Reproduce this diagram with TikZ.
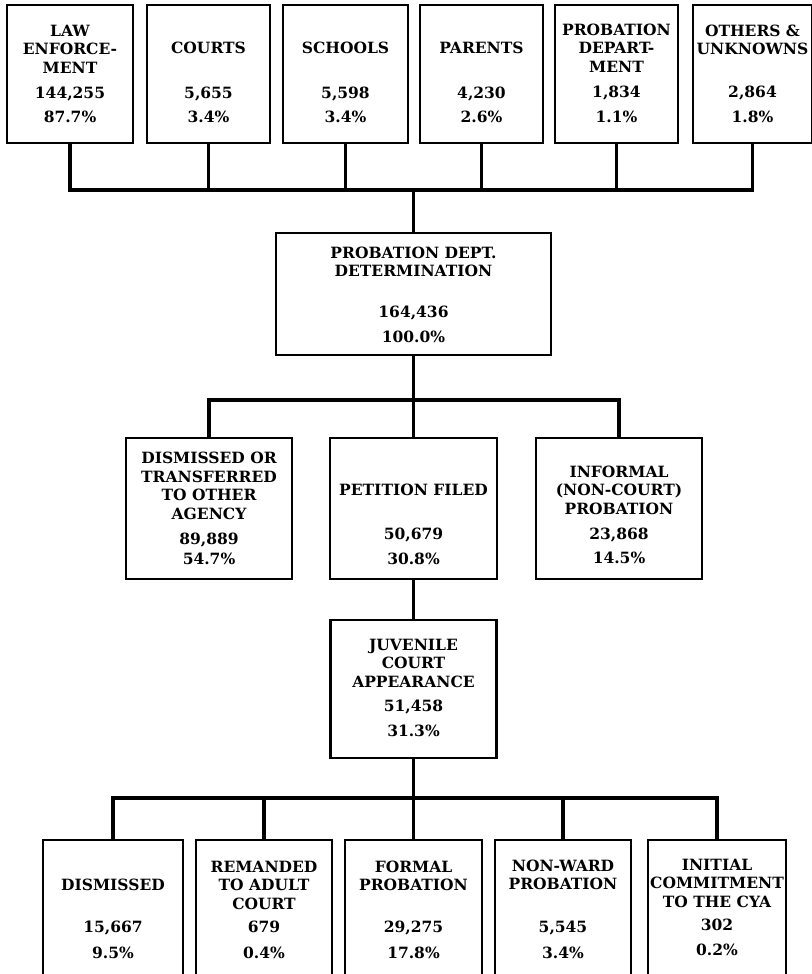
\documentclass[tikz,border=0pt]{standalone}
\usepackage{fontspec}
\setmainfont{DejaVu Serif}

\tikzset{
  statbox/.style={draw, line width=2.4pt, inner sep=0pt, outer sep=0pt, anchor=north west},
  boxtitle/.style={align=center, inner sep=0pt, font=\fontsize{15.5}{18.5}\selectfont\bfseries},
  boxfig/.style={inner sep=0pt, text height=11.5pt, text depth=0pt, font=\fontsize{15.5}{18}\selectfont\bfseries},
  link/.style={line width=3.2pt}
}

\newcommand{\boxtext}[7]{%
  \node[boxtitle] at ([yshift=-#2pt]#1.north) {#3};
  \node[boxfig] at ([yshift=-#4pt]#1.north) {#5};
  \node[boxfig] at ([yshift=-#6pt]#1.north) {#7};
}

\begin{document}
\begin{tikzpicture}[x=1pt, y=-1pt]
\useasboundingbox[fill=white] (0,0) rectangle (811,974);

\node[statbox, minimum width=126pt, minimum height=138pt] (law) at (7,5) {};
\node[statbox, minimum width=123pt, minimum height=138pt] (courts) at (147,5) {};
\node[statbox, minimum width=125pt, minimum height=138pt] (schools) at (283,5) {};
\node[statbox, minimum width=123pt, minimum height=138pt] (parents) at (420,5) {};
\node[statbox, minimum width=123pt, minimum height=138pt] (probdept) at (555,5) {};
\node[statbox, minimum width=119pt, minimum height=138pt] (others) at (693,5) {};

\node[statbox, minimum width=275pt, minimum height=122pt] (determ) at (276,233) {};

\node[statbox, minimum width=166pt, minimum height=141pt] (transfer) at (126,438) {};
\node[statbox, minimum width=167pt, minimum height=141pt] (petition) at (330,438) {};
\node[statbox, minimum width=166pt, minimum height=141pt] (informal) at (536,438) {};

\node[statbox, minimum width=166pt, minimum height=138pt] (juvenile) at (330.5,620) {};

\node[statbox, minimum width=140pt, minimum height=160pt] (dismissed) at (43,840) {};
\node[statbox, minimum width=136pt, minimum height=160pt] (remanded) at (196,840) {};
\node[statbox, minimum width=137pt, minimum height=160pt] (formal) at (345,840) {};
\node[statbox, minimum width=136pt, minimum height=160pt] (nonward) at (495,840) {};
\node[statbox, minimum width=138pt, minimum height=160pt] (cya) at (648,840) {};

\boxtext{law}{44}{LAW\\ENFORCE-\\MENT}{88}{144,255}{112}{87.7\%}
\boxtext{courts}{43}{COURTS}{88}{5,655}{112}{3.4\%}
\boxtext{schools}{43}{SCHOOLS}{88}{5,598}{112}{3.4\%}
\boxtext{parents}{43}{PARENTS}{88}{4,230}{112}{2.6\%}
\boxtext{probdept}{43}{PROBATION\\DEPART-\\MENT}{87}{1,834}{112}{1.1\%}
\boxtext{others}{35}{OTHERS \&\\UNKNOWNS}{87}{2,864}{112}{1.8\%}
\boxtext{determ}{29}{PROBATION DEPT.\\DETERMINATION}{79}{164,436}{104}{100.0\%}
\boxtext{transfer}{48}{DISMISSED OR\\TRANSFERRED\\TO OTHER\\AGENCY}{101}{89,889}{121}{54.7\%}
\boxtext{petition}{52}{PETITION FILED}{96}{50,679}{121}{30.8\%}
\boxtext{informal}{52}{INFORMAL\\(NON-COURT)\\PROBATION}{96}{23,868}{120}{14.5\%}
\boxtext{juvenile}{43}{JUVENILE\\COURT\\APPEARANCE}{86}{51,458}{111}{31.3\%}
\boxtext{dismissed}{45}{DISMISSED}{87}{15,667}{113}{9.5\%}
\boxtext{remanded}{45}{REMANDED\\TO ADULT\\COURT}{87}{679}{113}{0.4\%}
\boxtext{formal}{36}{FORMAL\\PROBATION}{87}{29,275}{113}{17.8\%}
\boxtext{nonward}{35}{NON-WARD\\PROBATION}{87}{5,545}{113}{3.4\%}
\boxtext{cya}{43}{INITIAL\\COMMITMENT\\TO THE CYA}{85}{302}{110}{0.2\%}

\coordinate (bus1) at (413.5,190);
\coordinate (bus2) at (413.5,400);
\coordinate (bus3) at (413.5,798);

\foreach \src in {law,courts,schools,parents,probdept,others}
  \draw[link] (\src.south) |- (bus1);
\draw[link] (bus1) -- (determ.north);

\draw[link] (determ.south) -- (bus2);
\foreach \dst in {transfer,petition,informal}
  \draw[link] (\dst.north) |- (bus2);

\draw[link] (petition.south) -- (juvenile.north);

\draw[link] (juvenile.south) -- (bus3);
\foreach \dst in {dismissed,remanded,formal,nonward,cya}
  \draw[link] (\dst.north) |- (bus3);
\end{tikzpicture}
\end{document}
